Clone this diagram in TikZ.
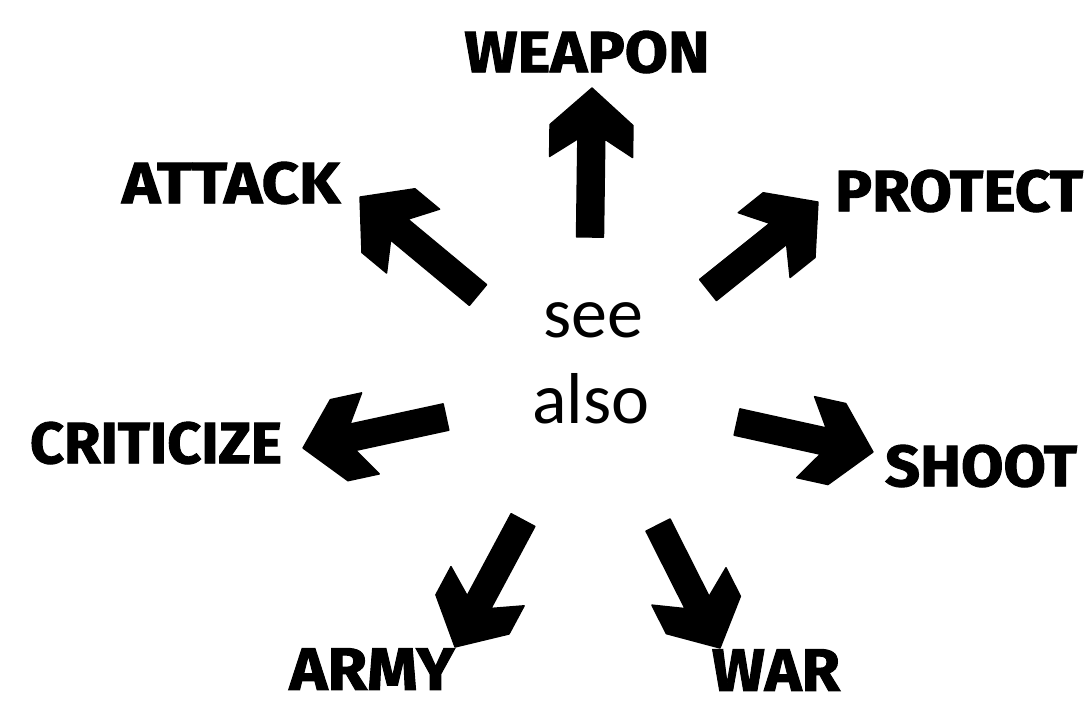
\documentclass[tikz,border=0pt]{standalone}
\usepackage{fontspec}
\usetikzlibrary{calc}
\newfontfamily\labfont{Fira Sans}[BoldFeatures={FakeBold=1.6}]
\newfontfamily\centfont{Carlito}
% label: fixed width and cap height like the reference
\newcommand\lab[2]{\resizebox{#1}{4.15mm}{\labfont\bfseries #2}}
\newcommand\fatarrow[2]{%
  \coordinate (fa-a) at ($(#2)!3.7mm!(#1)$);
  \coordinate (fa-b) at ($(#2)!6.9mm!(#1)$);
  \coordinate (fa-c) at ($(#2)!5.1mm!(#1)$);
  \fill[arrowfill]
    ($(#1)!1.35mm!90:(#2)$) --
    ($(fa-c)!1.35mm!90:(#2)$) --
    ($(fa-b)!4.15mm!90:(#2)$) --
    ($(fa-a)!4.15mm!90:(#2)$) --
    (#2) --
    ($(fa-a)!4.15mm!-90:(#2)$) --
    ($(fa-b)!4.15mm!-90:(#2)$) --
    ($(fa-c)!1.35mm!-90:(#2)$) --
    ($(#1)!1.35mm!-90:(#2)$) -- cycle;
}
\tikzset{
  arrowfill/.style={fill=black, draw=black, line width=0.4pt, line join=round},
  label/.style={inner sep=0pt, text=black},
  centre/.style={inner sep=0pt, anchor=base, font=\centfont\fontsize{20.5}{24}\selectfont}
}
\begin{document}
\begin{tikzpicture}[x=0.1mm, y=-0.1mm]
\useasboundingbox (0,0) rectangle (1084,711);
% centre text
\node[centre] (see) at (593,337) {see};
\node[centre] (also) at (591,423) {also};
% labels
\node[label] (weapon)    at (587,52)  {\lab{24.5mm}{WEAPON}};
\node[label] (attack)    at (231,183) {\lab{21.8mm}{ATTACK}};
\node[label] (protect)   at (959,191) {\lab{24.8mm}{PROTECT}};
\node[label] (criticize) at (156,443) {\lab{25.2mm}{CRITICIZE}};
\node[label] (shoot)     at (981,466) {\lab{19.2mm}{SHOOT}};
\node[label] (army)      at (372,669) {\lab{16.5mm}{ARMY}};
\node[label] (war)       at (776,670) {\lab{12.8mm}{WAR}};
% arrow ends
\coordinate (s1) at (590,237); \coordinate (t1) at (592,88);
\coordinate (s2) at (478,295); \coordinate (t2) at (360,197);
\coordinate (s3) at (708,290); \coordinate (t3) at (818,202);
\coordinate (s4) at (446,417); \coordinate (t4) at (303,448);
\coordinate (s5) at (737,422); \coordinate (t5) at (873,452);
\coordinate (s6) at (523,520); \coordinate (t6) at (455,647);
\coordinate (s7) at (658,525); \coordinate (t7) at (720,648);
\fatarrow{s1}{t1}
\fatarrow{s2}{t2}
\fatarrow{s3}{t3}
\fatarrow{s4}{t4}
\fatarrow{s5}{t5}
\fatarrow{s6}{t6}
\fatarrow{s7}{t7}
\end{tikzpicture}
\end{document}
